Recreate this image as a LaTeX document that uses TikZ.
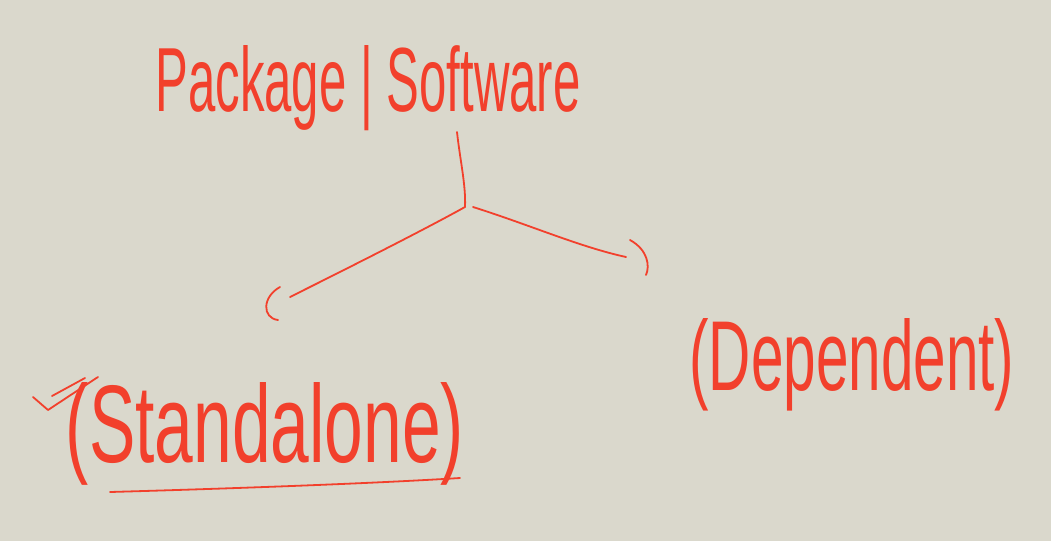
\documentclass[tikz,border=0pt]{standalone}
\usepackage{fontspec}
\setmainfont{Liberation Sans}
\definecolor{bg}{HTML}{DAD8CC}
\definecolor{ink}{HTML}{F2402C}
\begin{document}
\begin{tikzpicture}[x=1pt,y=-1pt,
  handtext/.style={text=ink, inner sep=0pt},
  stroke/.style={draw=ink, line width=1.8pt, line cap=round, line join=round}]
\fill[bg] (0,0) rectangle (1051,541);
\useasboundingbox (0,0) rectangle (1051,541);
\node[handtext] (top) at (368,88) {\resizebox{425pt}{66pt}{\fontsize{48}{50}\selectfont Package | Software}};
\node[handtext] (left) at (265,434) {\resizebox{398pt}{80pt}{\fontsize{48}{50}\selectfont (Standalone)}};
\node[handtext] (right) at (852,365) {\resizebox{325pt}{72pt}{\fontsize{48}{50}\selectfont (Dependent)}};
\coordinate (stem) at (457,132);
\coordinate (fork) at (465,207);
\coordinate (forkr) at (473,207);
\coordinate (lend) at (290,297);
\coordinate (rend) at (626,257);
\draw[stroke] (stem) .. controls (460,160) and (466,185) .. (fork);
\draw[stroke] (fork) .. controls (420,232) and (340,272) .. (lend);
\draw[stroke] (280,287) .. controls (262,297) and (262,318) .. (278,320);
\draw[stroke] (forkr) .. controls (530,225) and (580,247) .. (rend);
\draw[stroke] (630,240) .. controls (648,250) and (650,266) .. (646,275);
\draw[stroke] (110,492) .. controls (250,488) and (380,483) .. (460,478);
\draw[stroke] (33,397) -- (48,410) -- (98,377);
\draw[stroke] (52,396) -- (85,378);
\end{tikzpicture}
\end{document}
